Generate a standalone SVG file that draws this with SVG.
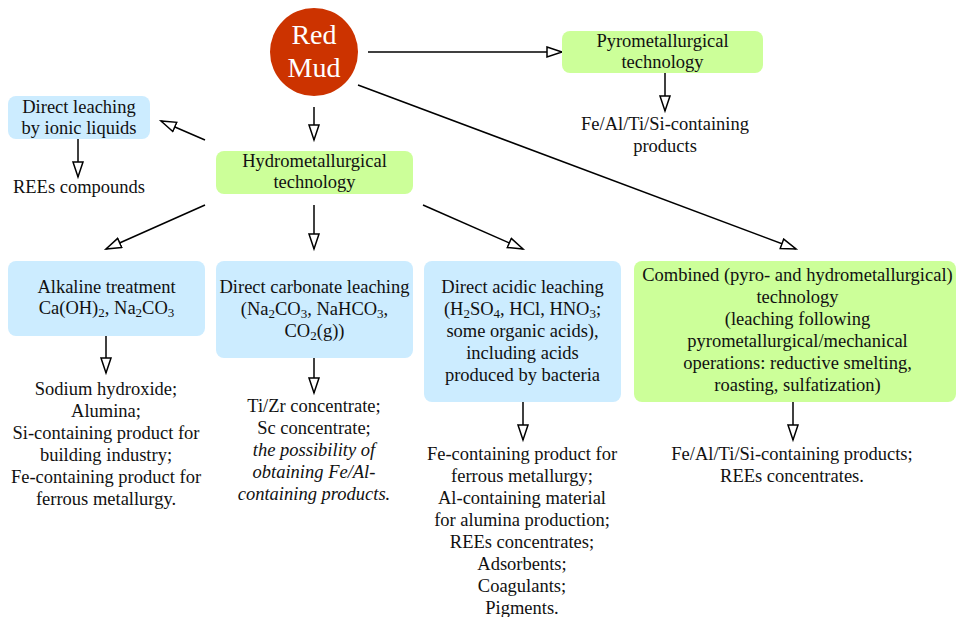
<svg xmlns="http://www.w3.org/2000/svg" width="957" height="617" viewBox="0 0 957 617" font-family="'Liberation Serif', 'Times New Roman', serif">
<style>
text{font-family:"Liberation Serif","Times New Roman",serif;font-size:18.5px;fill:#111;text-anchor:middle}
.green{fill:#CCFF99}
.blue{fill:#CCECFF}
.con line{stroke:#000;stroke-width:1.5;fill:none;marker-end:url(#ah)}
.sub{font-size:13px}
.it{font-style:italic}
</style>
<defs>
<marker id="ah" markerUnits="userSpaceOnUse" markerWidth="20" markerHeight="14" refX="16" refY="6" orient="auto">
<path d="M1,1 L16,6 L1,11 Z" fill="#fff" stroke="#000" stroke-width="1.5"/>
</marker>
</defs>
<rect width="957" height="617" fill="#fff"/>
<g class="con" id="connectors">
<line x1="368" y1="52" x2="562" y2="52"/>
<line x1="665" y1="73" x2="665" y2="111"/>
<line x1="314" y1="107" x2="314" y2="140"/>
<line x1="205" y1="140" x2="161" y2="121"/>
<line x1="78" y1="139" x2="78" y2="177"/>
<line x1="358" y1="85" x2="796" y2="249"/>
<line x1="205" y1="205" x2="106" y2="249"/>
<line x1="314" y1="205" x2="314" y2="249"/>
<line x1="423" y1="205" x2="523" y2="249"/>
<line x1="106" y1="336" x2="106" y2="373"/>
<line x1="314" y1="358" x2="314" y2="393"/>
<line x1="523" y1="402" x2="523" y2="440"/>
<line x1="793" y1="402" x2="793" y2="440"/>
</g>
<g id="redmud">
<circle cx="314" cy="52" r="44" fill="#CC3300"/>
<text x="314" y="44" style="font-size:28px;fill:#fff">Red</text>
<text x="314" y="77" style="font-size:28px;fill:#fff">Mud</text>
</g>
<g id="pyro">
<rect class="green" x="562" y="31" width="201" height="42" rx="8"/>
<text x="662.5" y="47">Pyrometallurgical</text>
<text x="662.5" y="68">technology</text>
</g>
<g id="pyro-products">
<text x="665" y="130">Fe/Al/Ti/Si-containing</text>
<text x="665" y="152">products</text>
</g>
<g id="ionic">
<rect class="blue" x="8" y="96" width="142" height="43" rx="8"/>
<text x="79" y="113">Direct leaching</text>
<text x="79" y="134">by ionic liquids</text>
</g>
<g id="ionic-products">
<text x="79" y="193">REEs compounds</text>
</g>
<g id="hydro">
<rect class="green" x="216" y="151" width="197" height="43" rx="8"/>
<text x="314.5" y="167">Hydrometallurgical</text>
<text x="314.5" y="188">technology</text>
</g>
<g id="alkaline">
<rect class="blue" x="8" y="261" width="197" height="75" rx="8"/>
<text x="106.5" y="293">Alkaline treatment</text>
<text x="106.5" y="314">Ca(OH)<tspan class="sub" dy="3">2</tspan><tspan dy="-3">, Na</tspan><tspan class="sub" dy="3">2</tspan><tspan dy="-3">CO</tspan><tspan class="sub" dy="3">3</tspan></text>
</g>
<g id="alkaline-products">
<text x="106" y="395">Sodium hydroxide;</text>
<text x="106" y="417">Alumina;</text>
<text x="106" y="439">Si-containing product for</text>
<text x="106" y="461">building industry;</text>
<text x="106" y="483">Fe-containing product for</text>
<text x="106" y="505">ferrous metallurgy.</text>
</g>
<g id="carbonate">
<rect class="blue" x="216" y="261" width="197" height="97" rx="8"/>
<text x="314.5" y="293">Direct carbonate leaching</text>
<text x="314.5" y="315">(Na<tspan class="sub" dy="3">2</tspan><tspan dy="-3">CO</tspan><tspan class="sub" dy="3">3</tspan><tspan dy="-3">, NaHCO</tspan><tspan class="sub" dy="3">3</tspan><tspan dy="-3">,</tspan></text>
<text x="314.5" y="337">CO<tspan class="sub" dy="3">2</tspan><tspan dy="-3">(g))</tspan></text>
</g>
<g id="carbonate-products">
<text x="314" y="412">Ti/Zr concentrate;</text>
<text x="314" y="434">Sc concentrate;</text>
<text x="314" y="456" class="it">the possibility of</text>
<text x="314" y="478" class="it">obtaining Fe/Al-</text>
<text x="314" y="500" class="it">containing products.</text>
</g>
<g id="acidic">
<rect class="blue" x="424" y="261" width="197" height="141" rx="8"/>
<text x="522.5" y="293">Direct acidic leaching</text>
<text x="522.5" y="315">(H<tspan class="sub" dy="3">2</tspan><tspan dy="-3">SO</tspan><tspan class="sub" dy="3">4</tspan><tspan dy="-3">, HCl, HNO</tspan><tspan class="sub" dy="3">3</tspan><tspan dy="-3">;</tspan></text>
<text x="522.5" y="337">some organic acids),</text>
<text x="522.5" y="359">including acids</text>
<text x="522.5" y="381">produced by bacteria</text>
</g>
<g id="acidic-products">
<text x="522" y="460">Fe-containing product for</text>
<text x="522" y="482">ferrous metallurgy;</text>
<text x="522" y="504">Al-containing material</text>
<text x="522" y="526">for alumina production;</text>
<text x="522" y="548">REEs concentrates;</text>
<text x="522" y="570">Adsorbents;</text>
<text x="522" y="592">Coagulants;</text>
<text x="522" y="614">Pigments.</text>
</g>
<g id="combined">
<rect class="green" x="634" y="261" width="322" height="141" rx="8"/>
<text x="797.5" y="281">Combined (pyro- and hydrometallurgical)</text>
<text x="797.5" y="303">technology</text>
<text x="797.5" y="325">(leaching following</text>
<text x="797.5" y="347">pyrometallurgical/mechanical</text>
<text x="797.5" y="369">operations: reductive smelting,</text>
<text x="797.5" y="391">roasting, sulfatization)</text>
</g>
<g id="combined-products">
<text x="792" y="460">Fe/Al/Ti/Si-containing products;</text>
<text x="792" y="482">REEs concentrates.</text>
</g>
</svg>
